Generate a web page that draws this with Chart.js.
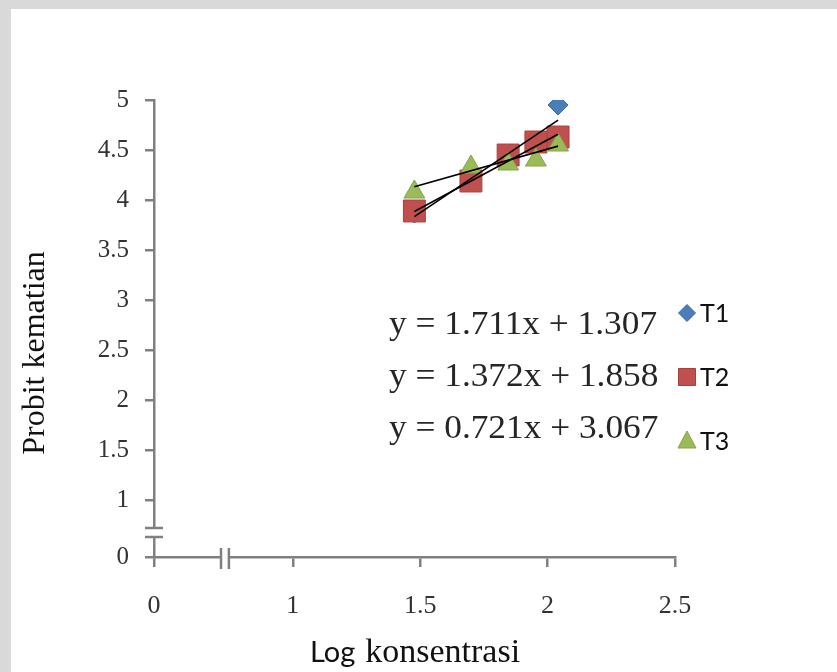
<!DOCTYPE html>
<html><head><meta charset="utf-8">
<script src="https://cdn.jsdelivr.net/npm/chart.js@4.4.0/dist/chart.umd.min.js"></script>
<style>html,body{margin:0;padding:0;background:#fff;overflow:hidden;width:837px;height:672px;} canvas{display:block;}</style>
</head><body>
<canvas id="c" width="837" height="672"></canvas>
<script>
// ---- data ----
const logConc   = [1.477, 1.699, 1.845, 1.954, 2.041];
const t1Probit  = [3.87, 4.19, 4.43, 4.55, 4.95];
const t2Probit  = [3.89, 4.19, 4.45, 4.58, 4.63];
const t3Probit  = [4.08, 4.33, 4.36, 4.40, 4.55];
const seriesNames = ['T1', 'T2', 'T3'];
const trendSlopes = [1.711, 1.372, 0.721];
const trendIntercepts = [1.307, 1.858, 3.067];
const equationTexts = ['y = 1.711x + 1.307', 'y = 1.372x + 1.858', 'y = 0.721x + 3.067'];
const xTickValues = [1, 1.5, 2, 2.5];
const yTickValues = [1, 1.5, 2, 2.5, 3, 3.5, 4, 4.5, 5];
const xAxisZero = 0.455;   // broken axis: origin drawn here, labelled "0"
const yAxisZero = 0.43;
const xBreak = [0.718, 0.749];
const yBreak = [0.72, 0.63];

const serif = '"Liberation Serif", "Times New Roman", serif';
const sans = 'Lato, "Open Sans", sans-serif';
const colors = ['#4a7ebb', '#c0504d', '#9bbb59'];
const borders = ['#3d6aa0', '#a5403d', '#86a34a'];
const styles = ['rectRot', 'rect', 'triangle'];
const radii = [10, 15.5, 12];
const values = [t1Probit, t2Probit, t3Probit];

const datasets = [];
for (let i = 0; i < 3; i++) {
  const xs = [logConc[0], logConc[logConc.length - 1]];
  datasets.push({
    label: seriesNames[i] + ' trend',
    data: xs.map(x => ({x: x, y: trendSlopes[i] * x + trendIntercepts[i]})),
    showLine: true, borderColor: '#000', borderWidth: 1.6, pointRadius: 0, fill: false, order: 0
  });
}
for (let i = 0; i < 3; i++) {
  datasets.push({
    label: seriesNames[i],
    data: logConc.map((x, k) => ({x: x, y: values[i][k]})),
    pointStyle: styles[i], pointRadius: radii[i], pointHoverRadius: radii[i],
    backgroundColor: colors[i], borderColor: borders[i], borderWidth: 1,
    showLine: false, order: 3 - i
  });
}

const axisGray = '#808080';
const deco = {
  id: 'deco',
  beforeDraw(chart) {
    const ctx = chart.ctx;
    ctx.save();
    ctx.fillStyle = '#d9d9d9';
    ctx.fillRect(0, 0, 837, 672);
    ctx.fillStyle = '#ffffff';
    ctx.fillRect(11, 9, 900, 900);
    ctx.restore();
  },
  afterDraw(chart) {
    const ctx = chart.ctx, xs = chart.scales.x, ys = chart.scales.y;
    const ax = xs.getPixelForValue(xAxisZero), ay = ys.getPixelForValue(yAxisZero);
    ctx.save();
    // y break
    const ya = ys.getPixelForValue(yBreak[0]), yb = ys.getPixelForValue(yBreak[1]);
    ctx.fillStyle = '#fff';
    ctx.fillRect(ax - 5, ya, 10, yb - ya);
    ctx.strokeStyle = axisGray; ctx.lineWidth = 2.5;
    ctx.beginPath();
    ctx.moveTo(ax - 9, ya); ctx.lineTo(ax + 9, ya);
    ctx.moveTo(ax - 9, yb); ctx.lineTo(ax + 9, yb);
    ctx.stroke();
    // x break
    const xa = xs.getPixelForValue(xBreak[0]), xb = xs.getPixelForValue(xBreak[1]);
    ctx.fillRect(xa, ay - 5, xb - xa, 10);
    ctx.beginPath();
    ctx.moveTo(xa, ay - 9); ctx.lineTo(xa, ay + 12);
    ctx.moveTo(xb, ay - 9); ctx.lineTo(xb, ay + 12);
    ctx.stroke();
    // equations
    ctx.fillStyle = '#262626';
    ctx.textBaseline = 'alphabetic'; ctx.textAlign = 'left';
    const eqBase = [334, 386, 438];
    equationTexts.forEach((t, i) => {
      ctx.save();
      ctx.translate(389, eqBase[i]);
      ctx.scale(1.07, 1);
      ctx.font = '33px ' + serif;
      ctx.fillText(t, 0, 0);
      ctx.restore();
    });
    // legend
    const legY = [313, 377, 441];
    for (let i = 0; i < 3; i++) {
      const cx = 687, cy = legY[i];
      ctx.fillStyle = colors[i]; ctx.strokeStyle = borders[i]; ctx.lineWidth = 1;
      ctx.beginPath();
      if (i === 0) { ctx.moveTo(cx - 8.5, cy); ctx.lineTo(cx, cy - 8.5); ctx.lineTo(cx + 8.5, cy); ctx.lineTo(cx, cy + 8.5); }
      else if (i === 1) { ctx.rect(cx - 8.5, cy - 8.5, 17, 17); }
      else { ctx.moveTo(cx, cy - 10); ctx.lineTo(cx + 9, cy + 7); ctx.lineTo(cx - 9, cy + 7); }
      ctx.closePath(); ctx.fill(); ctx.stroke();
      ctx.fillStyle = '#111'; ctx.font = '25px ' + sans;
      ctx.fillText(seriesNames[i], 700, cy + 9);
    }
    // y title
    ctx.save();
    ctx.translate(36, 353); ctx.rotate(-Math.PI / 2);
    ctx.textAlign = 'center'; ctx.textBaseline = 'middle';
    ctx.font = '32px ' + serif; ctx.fillStyle = '#111';
    ctx.fillText('Probit kematian', 0, 0);
    ctx.restore();
    // x title
    ctx.textAlign = 'left'; ctx.fillStyle = '#111';
    ctx.font = '29px ' + sans;
    ctx.fillText('Log', 310, 662);
    const w = ctx.measureText('Log').width;
    ctx.font = '34px ' + serif;
    ctx.fillText('konsentrasi', 310 + w + 10, 662);
    ctx.restore();
  }
};

new Chart(document.getElementById('c'), {
  type: 'scatter',
  data: {datasets: datasets},
  options: {
    responsive: false, animation: false, devicePixelRatio: 1,
    events: [],
    layout: {padding: {left: 0, right: 162, top: 100, bottom: 0}},
    plugins: {legend: {display: false}, tooltip: {enabled: false}},
    scales: {
      x: {
        type: 'linear', min: xAxisZero, max: 2.5,
        afterBuildTicks: s => { s.ticks = [xAxisZero].concat(xTickValues).map(v => ({value: v})); },
        afterFit: s => { s.height = 115; },
        ticks: {callback: v => v === xAxisZero ? '0' : String(v), font: {family: serif, size: 26}, color: '#333', padding: 24, maxRotation: 0, autoSkip: false},
        grid: {display: true, drawOnChartArea: false, drawTicks: true, tickLength: 10, color: axisGray, lineWidth: 2.5},
        border: {display: true, color: axisGray, width: 2.5}
      },
      y: {
        type: 'linear', min: yAxisZero, max: 5,
        afterBuildTicks: s => { s.ticks = [yAxisZero].concat(yTickValues).map(v => ({value: v})); },
        afterFit: s => { s.width = 154; },
        ticks: {callback: v => v === yAxisZero ? '0' : String(v), font: {family: serif, size: 25}, color: '#333', padding: 16, autoSkip: false},
        grid: {display: true, drawOnChartArea: false, drawTicks: true, tickLength: 9, color: axisGray, lineWidth: 2.5},
        border: {display: true, color: axisGray, width: 2.5}
      }
    }
  },
  plugins: [deco]
});
</script>
</body></html>
